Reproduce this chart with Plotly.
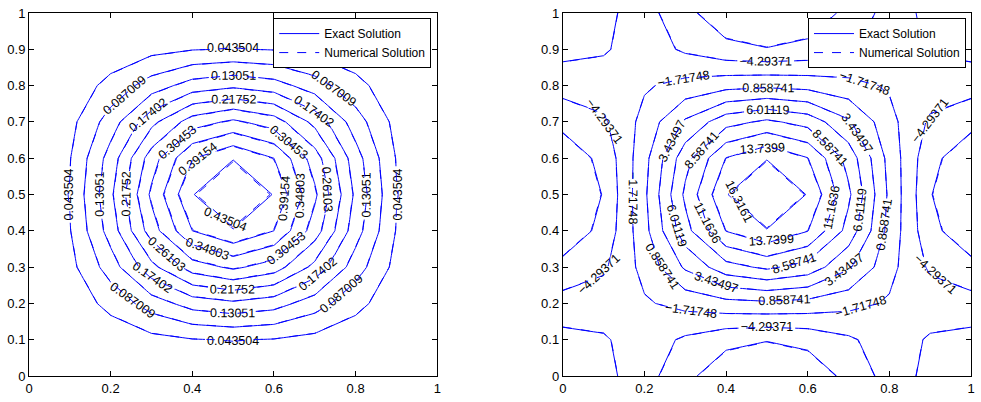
import plotly.graph_objects as go

# grid coordinates (both axes)
grid_x = [0.0, 0.1, 0.2, 0.3, 0.4, 0.5, 0.6, 0.7, 0.8, 0.9, 1.0]
grid_y = [0.0, 0.1, 0.2, 0.3, 0.4, 0.5, 0.6, 0.7, 0.8, 0.9, 1.0]

# left panel: solution u (exact / numerical)
u_exact = [
    [0.0, 0.0, 0.0, 0.0, 0.0, 0.0, 0.0, 0.0, 0.0, 0.0, 0.0],
    [0.0, 0.00436, 0.01579, 0.02991, 0.04133, 0.04570, 0.04133, 0.02991, 0.01579, 0.00436, 0.0],
    [0.0, 0.01579, 0.05712, 0.10821, 0.14955, 0.16533, 0.14955, 0.10821, 0.05712, 0.01579, 0.0],
    [0.0, 0.02991, 0.10821, 0.20500, 0.28330, 0.31321, 0.28330, 0.20500, 0.10821, 0.02991, 0.0],
    [0.0, 0.04133, 0.14955, 0.28330, 0.39152, 0.43285, 0.39152, 0.28330, 0.14955, 0.04133, 0.0],
    [0.0, 0.04570, 0.16533, 0.31321, 0.43285, 0.47855, 0.43285, 0.31321, 0.16533, 0.04570, 0.0],
    [0.0, 0.04133, 0.14955, 0.28330, 0.39152, 0.43285, 0.39152, 0.28330, 0.14955, 0.04133, 0.0],
    [0.0, 0.02991, 0.10821, 0.20500, 0.28330, 0.31321, 0.28330, 0.20500, 0.10821, 0.02991, 0.0],
    [0.0, 0.01579, 0.05712, 0.10821, 0.14955, 0.16533, 0.14955, 0.10821, 0.05712, 0.01579, 0.0],
    [0.0, 0.00436, 0.01579, 0.02991, 0.04133, 0.04570, 0.04133, 0.02991, 0.01579, 0.00436, 0.0],
    [0.0, 0.0, 0.0, 0.0, 0.0, 0.0, 0.0, 0.0, 0.0, 0.0, 0.0],
]
u_numerical = [
    [0.0, 0.0, 0.0, 0.0, 0.0, 0.0, 0.0, 0.0, 0.0, 0.0, 0.0],
    [0.0, 0.00434, 0.01571, 0.02976, 0.04112, 0.04547, 0.04112, 0.02976, 0.01571, 0.00434, 0.0],
    [0.0, 0.01571, 0.05683, 0.10767, 0.14880, 0.16450, 0.14880, 0.10767, 0.05683, 0.01571, 0.0],
    [0.0, 0.02976, 0.10767, 0.20398, 0.28188, 0.31164, 0.28188, 0.20398, 0.10767, 0.02976, 0.0],
    [0.0, 0.04112, 0.14880, 0.28188, 0.38956, 0.43069, 0.38956, 0.28188, 0.14880, 0.04112, 0.0],
    [0.0, 0.04547, 0.16450, 0.31164, 0.43069, 0.47616, 0.43069, 0.31164, 0.16450, 0.04547, 0.0],
    [0.0, 0.04112, 0.14880, 0.28188, 0.38956, 0.43069, 0.38956, 0.28188, 0.14880, 0.04112, 0.0],
    [0.0, 0.02976, 0.10767, 0.20398, 0.28188, 0.31164, 0.28188, 0.20398, 0.10767, 0.02976, 0.0],
    [0.0, 0.01571, 0.05683, 0.10767, 0.14880, 0.16450, 0.14880, 0.10767, 0.05683, 0.01571, 0.0],
    [0.0, 0.00434, 0.01571, 0.02976, 0.04112, 0.04547, 0.04112, 0.02976, 0.01571, 0.00434, 0.0],
    [0.0, 0.0, 0.0, 0.0, 0.0, 0.0, 0.0, 0.0, 0.0, 0.0, 0.0],
]

# right panel: second field v (exact / numerical)
v_exact = [
    [0.0, -0.90203, -3.26356, -6.18258, -8.54412, -9.44615, -8.54412, -6.18258, -3.26356, -0.90203, 0.0],
    [-0.90203, -1.45951, -2.91902, -4.72307, -6.18258, -6.74007, -6.18258, -4.72307, -2.91902, -1.45951, -0.90203],
    [-3.26356, -2.91902, -2.01699, -0.90203, 0.0, 0.34454, 0.0, -0.90203, -2.01699, -2.91902, -3.26356],
    [-6.18258, -4.72307, -0.90203, 3.82105, 7.64209, 9.10160, 7.64209, 3.82105, -0.90203, -4.72307, -6.18258],
    [-8.54412, -6.18258, 0.0, 7.64209, 13.82468, 16.18621, 13.82468, 7.64209, 0.0, -6.18258, -8.54412],
    [-9.44615, -6.74007, 0.34454, 9.10160, 16.18621, 18.89229, 16.18621, 9.10160, 0.34454, -6.74007, -9.44615],
    [-8.54412, -6.18258, 0.0, 7.64209, 13.82468, 16.18621, 13.82468, 7.64209, 0.0, -6.18258, -8.54412],
    [-6.18258, -4.72307, -0.90203, 3.82105, 7.64209, 9.10160, 7.64209, 3.82105, -0.90203, -4.72307, -6.18258],
    [-3.26356, -2.91902, -2.01699, -0.90203, 0.0, 0.34454, 0.0, -0.90203, -2.01699, -2.91902, -3.26356],
    [-0.90203, -1.45951, -2.91902, -4.72307, -6.18258, -6.74007, -6.18258, -4.72307, -2.91902, -1.45951, -0.90203],
    [0.0, -0.90203, -3.26356, -6.18258, -8.54412, -9.44615, -8.54412, -6.18258, -3.26356, -0.90203, 0.0],
]
v_numerical = [
    [0.0, -0.89752, -3.24724, -6.15167, -8.50140, -9.39892, -8.50140, -6.15167, -3.24724, -0.89752, 0.0],
    [-0.89752, -1.45221, -2.90442, -4.69946, -6.15167, -6.70637, -6.15167, -4.69946, -2.90442, -1.45221, -0.89752],
    [-3.24724, -2.90442, -2.00691, -0.89752, 0.0, 0.34282, 0.0, -0.89752, -2.00691, -2.90442, -3.24724],
    [-6.15167, -4.69946, -0.89752, 3.80194, 7.60388, 9.05609, 7.60388, 3.80194, -0.89752, -4.69946, -6.15167],
    [-8.50140, -6.15167, 0.0, 7.60388, 13.75556, 16.10528, 13.75556, 7.60388, 0.0, -6.15167, -8.50140],
    [-9.39892, -6.70637, 0.34282, 9.05609, 16.10528, 18.79783, 16.10528, 9.05609, 0.34282, -6.70637, -9.39892],
    [-8.50140, -6.15167, 0.0, 7.60388, 13.75556, 16.10528, 13.75556, 7.60388, 0.0, -6.15167, -8.50140],
    [-6.15167, -4.69946, -0.89752, 3.80194, 7.60388, 9.05609, 7.60388, 3.80194, -0.89752, -4.69946, -6.15167],
    [-3.24724, -2.90442, -2.00691, -0.89752, 0.0, 0.34282, 0.0, -0.89752, -2.00691, -2.90442, -3.24724],
    [-0.89752, -1.45221, -2.90442, -4.69946, -6.15167, -6.70637, -6.15167, -4.69946, -2.90442, -1.45221, -0.89752],
    [0.0, -0.89752, -3.24724, -6.15167, -8.50140, -9.39892, -8.50140, -6.15167, -3.24724, -0.89752, 0.0],
]

# contour levels: first level and spacing (10 levels lie inside each data range)
u_levels = dict(start=0.0435043, size=0.0435043)
v_levels = dict(start=-6.8699314, size=2.5762242)
n_levels = 10
# plotly spaces labels according to the level count; extra (empty) levels above
# the data maximum only make it place several labels per line, as clabel does
n_label_levels = 50

series_names = ["Exact Solution", "Numerical Solution"]

BLUE = "#0000FF"
FONT = "Liberation Sans, Arial, Helvetica, sans-serif"

fig = go.Figure()

def add_pair(zex, znum, lev, fmt, xa, ya, leg):
    end_lines = lev["start"] + (n_levels - 1) * lev["size"] + 1e-6
    end_labels = lev["start"] + (n_label_levels - 1) * lev["size"]
    fig.add_trace(go.Contour(
        x=grid_x, y=grid_y, z=zex, xaxis=xa, yaxis=ya,
        autocontour=False,
        contours=dict(start=lev["start"], end=end_labels, size=lev["size"],
                      coloring="none", showlabels=True,
                      labelfont=dict(family=FONT, size=12.5, color="black"),
                      labelformat=fmt),
        line=dict(color=BLUE, width=1, smoothing=0),
        showscale=False, hoverinfo="skip",
        name=series_names[0], showlegend=True, legend=leg,
    ))
    fig.add_trace(go.Contour(
        x=grid_x, y=grid_y, z=znum, xaxis=xa, yaxis=ya,
        autocontour=False,
        contours=dict(start=lev["start"], end=end_lines, size=lev["size"],
                      coloring="none", showlabels=False),
        line=dict(color=BLUE, width=1, dash="dash", smoothing=0),
        showscale=False, hoverinfo="skip",
        name=series_names[1], showlegend=True, legend=leg,
    ))

add_pair(u_exact, u_numerical, u_levels, ".5g", "x", "y", "legend")
add_pair(v_exact, v_numerical, v_levels, ".6g", "x2", "y2", "legend2")

axis_common = dict(range=[0, 1], showgrid=False, zeroline=False,
                   showline=True, mirror="ticks", linecolor="black", linewidth=1,
                   ticks="inside", ticklen=5, tickcolor="black", tickwidth=1,
                   tickfont=dict(family=FONT, size=13, color="black"))

legend_common = dict(bordercolor="black", borderwidth=1, bgcolor="white",
                     font=dict(family=FONT, size=12, color="black"),
                     xanchor="right", yanchor="top", y=0.986,
                     tracegroupgap=0, itemwidth=40)

fig.update_layout(
    width=981, height=402,
    margin=dict(l=29, r=6, t=10, b=24),
    paper_bgcolor="white", plot_bgcolor="white",
    font=dict(family=FONT, size=13, color="black"),
    xaxis=dict(domain=[0, 0.4334], dtick=0.2, anchor="y", **axis_common),
    yaxis=dict(domain=[0, 1], dtick=0.1, anchor="x", **axis_common),
    xaxis2=dict(domain=[0.5666, 1], dtick=0.2, anchor="y2", **axis_common),
    yaxis2=dict(domain=[0, 1], dtick=0.1, anchor="x2", **axis_common),
    legend=dict(x=0.427, **legend_common),
    legend2=dict(x=0.9947, **legend_common),
)

fig.write_html("out.html")
